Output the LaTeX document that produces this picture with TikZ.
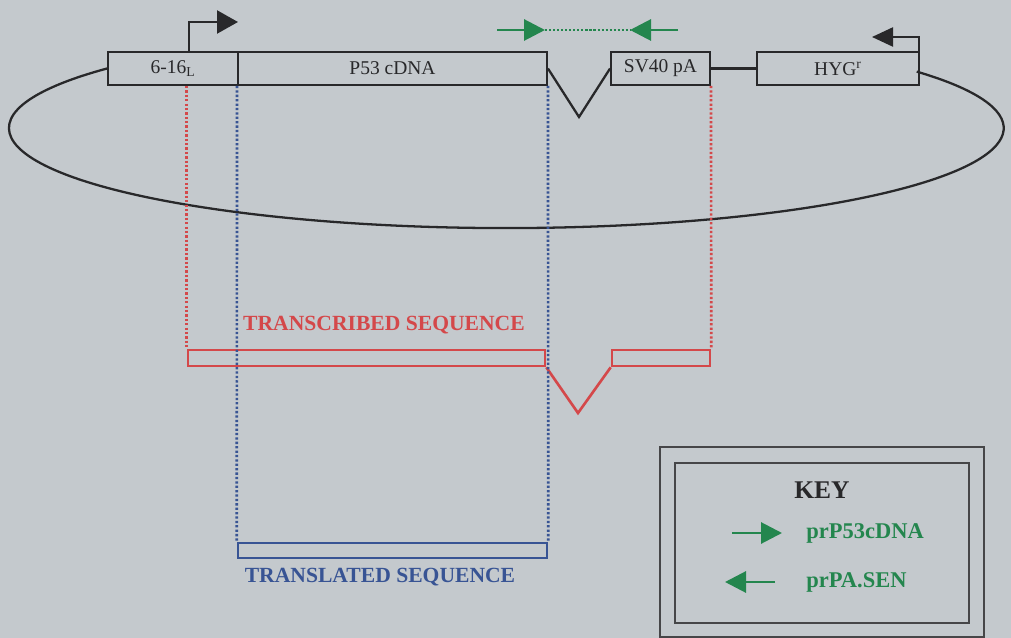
\documentclass[tikz,border=0pt]{standalone}
\usepackage{fontspec}
\setmainfont{Liberation Serif}
\usetikzlibrary{arrows.meta}
\definecolor{bg}{RGB}{196,201,205}
\definecolor{ink}{RGB}{40,40,42}
\definecolor{seqred}{RGB}{212,72,74}
\definecolor{seqblue}{RGB}{56,84,148}
\definecolor{primergreen}{RGB}{36,134,78}
\definecolor{keyline}{RGB}{70,70,72}
\tikzset{
  gene/.style={draw=ink, line width=1.1pt, minimum height=0.66cm, inner sep=0pt,
    text=ink, font=\fontsize{11.1}{13}\selectfont},
  backbone/.style={draw=ink, line width=1.3pt},
  promoter/.style={draw=ink, line width=1.3pt},
  primerline/.style={draw=primergreen, line width=1.7pt},
  primerhead/.style={-{Triangle[length=0.42cm,width=0.42cm]}},
  reddots/.style={draw=seqred, line width=1.5pt, dash pattern=on 1.3pt off 1.2pt},
  bluedots/.style={draw=seqblue, line width=1.5pt, dash pattern=on 1.3pt off 1.2pt},
  seqbar/.style={line width=1.5pt, inner sep=0pt, minimum height=0.32cm},
  seqlabel/.style={font=\bfseries\fontsize{12.3}{14}\selectfont, inner sep=0pt},
  keytext/.style={font=\bfseries\fontsize{12.8}{15}\selectfont, text=primergreen,
    anchor=west, inner sep=0pt}
}
\begin{document}
\begin{tikzpicture}[x=0.02cm, y=-0.02cm]
  \fill[bg] (0,0) rectangle (1011,638);
  \useasboundingbox (0,0) rectangle (1011,638);

  % plasmid elements
  \node[gene, minimum width=2.6cm]  (b616) at (173,68.5)   {6-16\textsubscript{L}};
  \node[gene, minimum width=6.18cm] (cdna) at (392.5,68.5) {P53 cDNA};
  \node[gene, minimum width=1.98cm] (sv40) at (660.5,68.5) {SV40 pA};
  \node[gene, minimum width=3.24cm] (hyg)  at (838,68.5)   {HYG\textsuperscript{r}};

  % intron between cDNA and polyA signal
  \coordinate (intron) at (579,117);
  \draw[backbone] (cdna.east) -- (intron) -- (sv40.west);
  \draw[backbone] (sv40.east) -- (hyg.west);

  % circular backbone
  \draw[backbone] (b616.west) arc[start angle=143.4, end angle=394.4,
                                  x radius=9.95cm, y radius=2cm];

  % promoters
  \coordinate (tss1) at (189,52.5);
  \coordinate (tss1tip) at (238,22);
  \draw[promoter, -{Triangle[length=0.42cm,width=0.46cm]}] (tss1) |- (tss1tip);
  \coordinate (tss2) at (919,52.5);
  \coordinate (tss2tip) at (872,37);
  \draw[promoter, -{Triangle[length=0.42cm,width=0.38cm]}] (tss2) |- (tss2tip);

  % PCR primers
  \coordinate (fwdtail) at (497,30);
  \coordinate (fwdtip)  at (545,30);
  \coordinate (revtip)  at (630,30);
  \coordinate (revtail) at (678,30);
  \draw[primerline, primerhead] (fwdtail) -- (fwdtip);
  \draw[primerline, primerhead] (revtail) -- (revtip);
  \draw[draw=primergreen, line width=1.4pt, dash pattern=on 1.2pt off 1.1pt] (fwdtip) -- (revtip);

  % transcribed sequence
  \node[seqbar, draw=seqred, minimum width=7.14cm] (txa) at (366.5,358) {};
  \node[seqbar, draw=seqred, minimum width=1.96cm] (txb) at (661,358) {};
  \coordinate (txv) at (578,413);
  \draw[draw=seqred, line width=1.5pt] (txa.south east) -- (txv) -- (txb.south west);
  \node[seqlabel, text=seqred] (txlabel) at (384,325) {TRANSCRIBED SEQUENCE};

  % translated sequence
  \node[seqbar, draw=seqblue, minimum width=6.18cm, minimum height=0.3cm] (tl) at (392.5,550.5) {};
  \node[seqlabel, text=seqblue] (tllabel) at (380,577) {TRANSLATED SEQUENCE};

  % projection guides
  \draw[reddots] (b616.south -| txa.west) -- (txa.north west);
  \draw[reddots] (sv40.south east) -- (txb.north east);
  \draw[bluedots] (cdna.south west) -- (tl.north west);
  \draw[bluedots] (cdna.south east) -- (tl.north east);

  % key
  \node[draw=keyline, line width=0.9pt, minimum width=6.48cm, minimum height=3.8cm, inner sep=0pt] (keyouter) at (822,542) {};
  \node[draw=keyline, line width=0.9pt, minimum width=5.88cm, minimum height=3.2cm, inner sep=0pt] (keyinner) at (822,543) {};
  \node[font=\bfseries\fontsize{14.5}{17}\selectfont, text=ink, inner sep=0pt] (keytitle) at (822,490) {KEY};
  \node[keytext] (kfwd) at (806,533) {prP53cDNA};
  \node[keytext] (krev) at (806,582) {prPA.SEN};
  \coordinate (kfwdtail) at (732,533);
  \coordinate (kfwdtip)  at (782,533);
  \coordinate (krevtail) at (775,582);
  \coordinate (krevtip)  at (725,582);
  \draw[primerline, primerhead] (kfwdtail) -- (kfwdtip);
  \draw[primerline, primerhead] (krevtail) -- (krevtip);
\end{tikzpicture}
\end{document}
